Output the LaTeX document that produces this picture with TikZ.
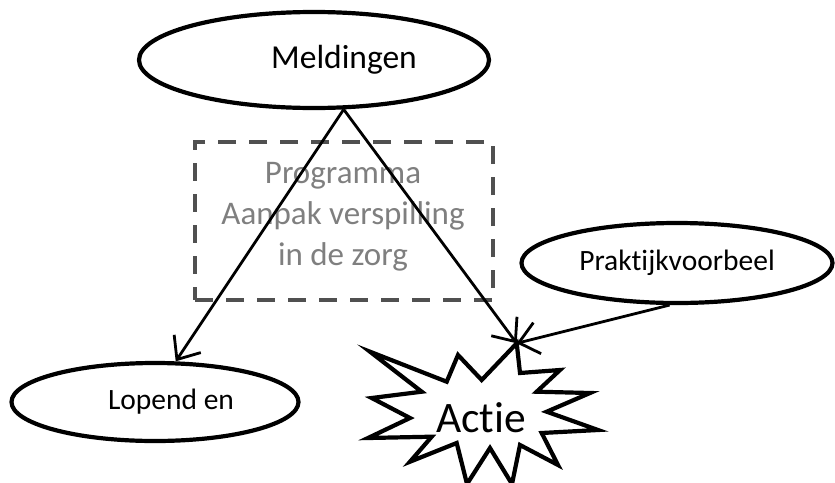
\documentclass[tikz,border=0pt]{standalone}
\usepackage{fontspec}
\setmainfont{Carlito}[Ligatures=NoCommon]
\usetikzlibrary{shapes.geometric,arrows.meta}
\definecolor{boxgray}{HTML}{505050}
\definecolor{textgray}{HTML}{7F7F7F}
\tikzset{
  oval/.style={ellipse, draw=black, line width=4.2pt, fill=white, inner sep=0pt},
  conn/.style={line width=2.8pt, -{Straight Barb[length=19pt,width=32pt,line width=2.8pt]}},
  dashbox/.style={draw=boxgray, line width=4pt, dash pattern=on 18pt off 13pt, inner sep=0pt},
}
\begin{document}
\begin{tikzpicture}[x=1pt,y=-1pt]
\useasboundingbox (0,0) rectangle (835,482);
% dashed programme box
\node[dashbox, minimum width=298pt, minimum height=158pt] (prog) at (344,221) {};
\node[text=textgray, align=center, font=\fontsize{33}{41}\selectfont] (progtxt) at (343,217)
  {Programma\\Aanpak verspilling\\in de zorg};
% ellipses
\node[oval, minimum width=350pt, minimum height=96pt] (meld) at (314,60) {};
\node[font=\fontsize{33.5}{40}\selectfont] (meldtxt) at (344,60) {Meldingen};
\node[oval, minimum width=287pt, minimum height=78pt] (lopend) at (155,402) {};
\node[font=\fontsize{29.5}{34}\selectfont] (lopendtxt) at (171,402) {Lopend en};
\node[oval, minimum width=311pt, minimum height=80pt, font=\fontsize{29.5}{34}\selectfont] (prak) at (677,263) {Prakt\kern0pt ijkvoorbeel};
% Actie starburst
\draw[line width=4.2pt, line join=miter, fill=white]
  (516.7,343.3) -- (520,373) -- (560,370) -- (536.7,391.7) -- (590,393) -- (546.7,411.7)
  -- (598,430) -- (541.7,433) -- (558,465) -- (520,445) -- (512,484) -- (490,448)
  -- (467,484) -- (456.7,443) -- (410,461.7) -- (431.7,436.7) -- (368,438) -- (410,418)
  -- (371.7,398) -- (421.7,391.7) -- (370,351.7) -- (446.7,381.7) -- (458,355)
  -- (481.7,380) -- cycle;
\coordinate (actietop) at (516.7,343.3);
\node[font=\fontsize{43.5}{50}\selectfont, inner sep=0pt] (actie) at (481,418) {Act\kern0pt ie};
% connectors
\draw[conn] (meld.-59) -- (lopend.63);
\draw[conn] (meld.-59) -- (actietop);
\draw[conn] (prak.-100) -- (actietop);
\end{tikzpicture}
\end{document}
